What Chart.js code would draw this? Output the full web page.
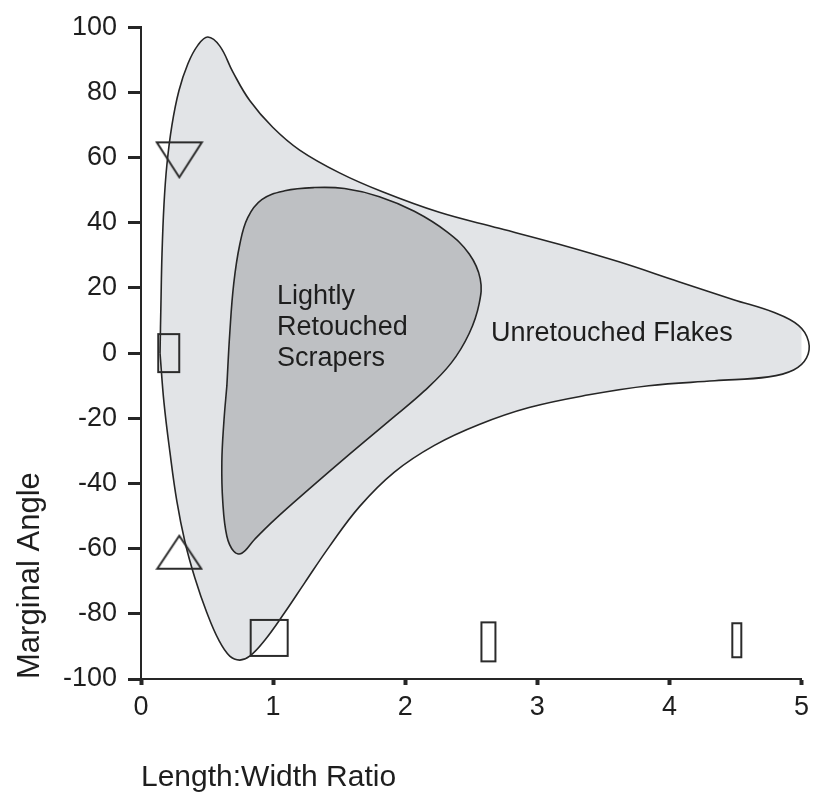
<!DOCTYPE html>
<html>
<head>
<meta charset="utf-8">
<script src="https://cdn.jsdelivr.net/npm/chart.js@4/dist/chart.umd.min.js"></script>
<style>
    body { margin: 0; background: #ffffff; }
    #wrap { width: 815px; height: 801px; }
</style>
</head>
<body>
<div id="wrap"><canvas id="chart" width="815" height="801"></canvas></div>
<script>
// outline of the unretouched flakes field (starts on the left edge)
const flakesX = [0.144, 0.151, 0.159, 0.174, 0.196, 0.234, 0.287, 0.355, 0.431, 0.506, 0.597, 0.695, 0.823, 0.997, 1.201, 1.503, 1.828, 2.258, 2.711, 3.165, 3.618, 4.071, 4.486, 4.789, 4.977, 5.053, 5.038, 4.940, 4.751, 4.343, 3.844, 3.391, 2.938, 2.560, 2.221, 1.918, 1.654, 1.427, 1.239, 1.088, 0.937, 0.823, 0.748, 0.672, 0.589, 0.498, 0.408, 0.332, 0.272, 0.219, 0.174, 0.144];
const flakesY = [0, 15.2, 30.4, 45.6, 57.8, 69.9, 80.5, 88.8, 94.5, 97.0, 94.2, 86.3, 77.5, 69.3, 62.3, 55.3, 49.5, 43.2, 38.3, 33.4, 28.0, 21.9, 16.4, 12.5, 8.5, 3.6, -1.5, -5.2, -7.3, -8.5, -10.0, -12.8, -16.7, -21.9, -28.3, -36.5, -47.1, -59.3, -70.5, -79.6, -88.1, -93.0, -94.2, -93.0, -88.1, -79.6, -69.0, -57.8, -45.6, -30.4, -15.2, 0];

// outline of the lightly retouched scrapers field
const scrapersX = [0.650, 0.672, 0.702, 0.748, 0.808, 0.914, 1.088, 1.314, 1.541, 1.805, 2.069, 2.319, 2.485, 2.568, 2.560, 2.485, 2.349, 2.145, 1.881, 1.579, 1.276, 1.012, 0.861, 0.763, 0.702, 0.650, 0.619, 0.612, 0.627, 0.650];
const scrapersY = [-10.0, 6.1, 21.3, 33.4, 41.6, 47.1, 49.8, 50.8, 50.5, 48.0, 43.5, 37.1, 30.4, 22.8, 15.2, 6.1, -3.0, -11.6, -20.7, -31.0, -41.6, -51.1, -57.1, -61.4, -60.8, -56.2, -45.6, -33.4, -21.3, -10.0];

// single tool outlines
const toolX = [0.29, 0.21, 0.29, 0.97, 2.63, 4.51];
const toolY = [59.3, 0, -61.1, -87.4, -88.6, -88.1];

const xTicks = [0, 1, 2, 3, 4, 5];
const yTicks = [-100, -80, -60, -40, -20, 0, 20, 40, 60, 80, 100];

const scraperLabel = ['Lightly', 'Retouched', 'Scrapers'];
const flakeLabel = ['Unretouched Flakes'];

const fontName = "'Liberation Sans', Arial, sans-serif";
const ink = '#262626';

function toPoints(xs, ys) {
    return xs.map((x, i) => ({x: x, y: ys[i]}));
}

function makeMarker(shape, w, h) {
    const c = document.createElement('canvas');
    c.width = w + 4;
    c.height = h + 4;
    const ctx = c.getContext('2d');
    ctx.strokeStyle = '#2b2b2b';
    ctx.lineWidth = 2;
    ctx.beginPath();
    if (shape === 'down') {
        ctx.moveTo(2, 2);
        ctx.lineTo(w + 2, 2);
        ctx.lineTo(w / 2 + 2, h + 2);
        ctx.closePath();
    } else if (shape === 'up') {
        ctx.moveTo(w / 2 + 2, 2);
        ctx.lineTo(w + 2, h + 2);
        ctx.lineTo(2, h + 2);
        ctx.closePath();
    } else {
        ctx.rect(2, 2, w, h);
    }
    ctx.stroke();
    return c;
}

const toolStyles = [
    makeMarker('down', 45, 35),
    makeMarker('rect', 21, 38),
    makeMarker('up', 44, 33),
    makeMarker('rect', 37, 36),
    makeMarker('rect', 14, 39),
    makeMarker('rect', 9, 34)
];

// draws the field names inside the shapes
const fieldLabels = {
    id: 'fieldLabels',
    afterDatasetsDraw(chart) {
        const ctx = chart.ctx;
        const xs = chart.scales.x;
        const ys = chart.scales.y;
        const items = [
            {lines: scraperLabel, x: 1.03, y: 15.2},
            {lines: flakeLabel, x: 2.65, y: 3.6}
        ];
        ctx.save();
        ctx.fillStyle = '#1e1e1e';
        ctx.font = '27px ' + fontName;
        ctx.textAlign = 'left';
        ctx.textBaseline = 'alphabetic';
        items.forEach(item => {
            const px = xs.getPixelForValue(item.x);
            const py = ys.getPixelForValue(item.y);
            item.lines.forEach((line, i) => {
                ctx.fillText(line, px, py + i * 31);
            });
        });
        ctx.restore();
    }
};

new Chart(document.getElementById('chart'), {
    type: 'scatter',
    data: {
        datasets: [
            {
                data: toPoints(toolX, toolY),
                pointStyle: toolStyles,
                pointRadius: 6,
                pointHoverRadius: 6,
                showLine: false,
                order: 0
            },
            {
                data: toPoints(scrapersX, scrapersY),
                showLine: true,
                tension: 0.4,
                fill: 'shape',
                backgroundColor: '#bec0c3',
                borderColor: ink,
                borderWidth: 1.6,
                pointRadius: 0,
                order: 1
            },
            {
                data: toPoints(flakesX, flakesY),
                showLine: true,
                tension: 0.4,
                fill: 'shape',
                backgroundColor: '#e2e4e7',
                borderColor: ink,
                borderWidth: 1.6,
                pointRadius: 0,
                clip: false,
                order: 2
            }
        ]
    },
    options: {
        responsive: false,
        animation: false,
        events: [],
        layout: {padding: {top: 21, right: 12, left: 0, bottom: 0}},
        elements: {line: {capBezierPoints: false}},
        plugins: {
            legend: {display: false},
            tooltip: {enabled: false}
        },
        scales: {
            x: {
                type: 'linear',
                min: 0,
                max: 5,
                afterBuildTicks: scale => { scale.ticks = xTicks.map(v => ({value: v})); },
                afterFit: scale => { scale.height = 122; },
                grid: {drawOnChartArea: false, tickLength: 6, tickWidth: 4, tickColor: ink},
                border: {color: ink, width: 2},
                ticks: {color: '#1e1e1e', padding: 6, font: {family: fontName, size: 27}},
                title: {
                    display: true,
                    text: 'Length:Width Ratio',
                    align: 'start',
                    color: '#1e1e1e',
                    font: {family: fontName, size: 30},
                    padding: {top: 0, bottom: 5}
                }
            },
            y: {
                type: 'linear',
                min: -100,
                max: 100,
                afterBuildTicks: scale => { scale.ticks = yTicks.map(v => ({value: v})); },
                afterFit: scale => { scale.width = 141; },
                grid: {drawOnChartArea: false, tickLength: 13, tickWidth: 3, tickColor: ink},
                border: {color: ink, width: 2},
                ticks: {color: '#1e1e1e', padding: 11, font: {family: fontName, size: 27}},
                title: {
                    display: true,
                    text: 'Marginal Angle',
                    align: 'start',
                    color: '#1e1e1e',
                    font: {family: fontName, size: 31},
                    padding: {top: 12, bottom: 0}
                }
            }
        }
    },
    plugins: [fieldLabels]
});
</script>
</body>
</html>
